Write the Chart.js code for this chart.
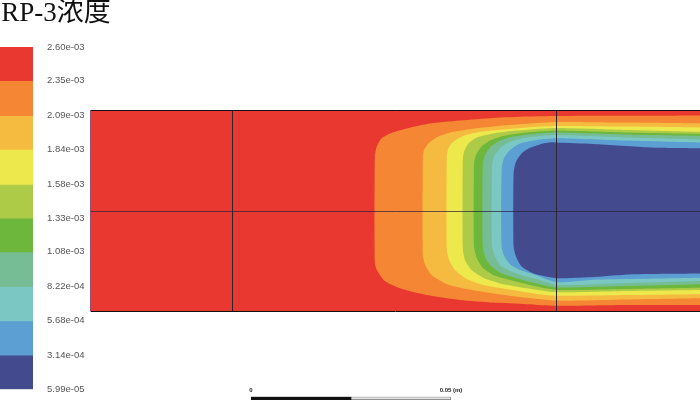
<!DOCTYPE html>
<html>
<head>
<meta charset="utf-8">
<title>RP-3浓度</title>
<script src="https://cdn.jsdelivr.net/npm/chart.js@4"></script>
<style>
  html, body { margin: 0; padding: 0; background: #fff; width: 700px; height: 400px; overflow: hidden; }
  canvas { position: absolute; }
</style>
</head>
<body>
<canvas id="field" width="700" height="400" style="left:0;top:0"></canvas>
<canvas id="colorbar" width="112" height="409" style="left:0;top:0"></canvas>
<canvas id="scalebar" width="250" height="14" style="left:230px;top:386px"></canvas>
<script>
'use strict'

const titleText = 'RP-3浓度'

// legend, top to bottom
const levels = [2.60e-3, 2.35e-3, 2.09e-3, 1.84e-3, 1.58e-3, 1.33e-3, 1.08e-3, 8.22e-4, 5.68e-4, 3.14e-4, 5.99e-5]
const levelLabels = ['2.60e-03', '2.35e-03', '2.09e-03', '1.84e-03', '1.58e-03', '1.33e-03', '1.08e-03', '8.22e-04', '5.68e-04', '3.14e-04', '5.99e-05']
const bandColors = ['#e8382f', '#f58634', '#f5bb40', '#ede84c', '#aecb47', '#6db73c', '#76bd96', '#7ac7c4', '#5b9fd3', '#434a8e']

// domain size and mesh lines, in mm
const domainX = 152.5
const domainY = 50.25
const gridX = [35.5, 116.5]
const gridY = [0, 25, 50.25]

// contours as [x, y] in mm, running from the outlet along the top wall, round the front, back along the bottom wall
const wholeDomain = [[152.5, 50.25], [0, 50.25], [0, 0], [152.5, 0]]
const redOrange = [[152.5, 48.9], [134.2, 48.8], [116.7, 48.75], [109.2, 48.6], [100.8, 48.25], [92.5, 47.6], [84.2, 46.75], [78.3, 45.4], [75, 44.4], [72.9, 43.2], [71.7, 41.1], [71.2, 38.6], [71.2, 12.3], [71.7, 10.25], [73.7, 7.5], [77.5, 5.7], [84.2, 4], [92.5, 2.75], [100.8, 2.1], [109.2, 1.7], [116.7, 1.3], [134.2, 1.5], [152.5, 1.5]]
const orangeAmber = [[152.5, 46.9], [134.2, 47.1], [116.7, 47.25], [105, 46.5], [96.7, 45.7], [90.8, 44.8], [87.1, 43.6], [84.6, 41.9], [83.5, 40.25], [83.2, 38.6], [83.2, 14], [83.8, 11.5], [85.4, 9], [89.2, 6.7], [94.2, 5.5], [100.8, 4.4], [109.2, 3.3], [116.7, 2.6], [134.2, 2.9], [152.5, 3.2]]
const amberYellow = [[152.5, 45.9], [134.2, 46.1], [116.7, 46.25], [109.2, 45.9], [103.3, 45.4], [97.5, 44.8], [93.3, 43.75], [90.8, 42.3], [89.6, 40.7], [89.2, 38.6], [89.2, 15.25], [89.8, 12.75], [91.25, 10.25], [94.2, 8], [98.3, 6.5], [104.2, 5.5], [110.8, 4.4], [116.7, 3.8], [134.2, 4], [152.5, 4.2]]
const yellowLime = [[152.5, 44.8], [134.2, 45.25], [116.7, 45.75], [106.7, 45.1], [100.8, 44.4], [96.7, 43.4], [94.6, 41.9], [93.5, 39.8], [93.2, 37.75], [93.2, 15.7], [93.75, 12.75], [95.4, 10.25], [98.3, 8.3], [102.5, 6.9], [109.2, 5.7], [116.7, 4.7], [134.2, 5], [152.5, 5.25]]
const limeGreen = [[152.5, 44.25], [134.2, 44.6], [116.7, 45.1], [109.2, 44.6], [103.3, 43.75], [100, 42.6], [97.9, 41.1], [96.5, 39], [96, 36.9], [96, 16.1], [96.7, 13.2], [98.3, 10.7], [101.25, 8.8], [105, 7.75], [110.8, 6.3], [116.7, 5.25], [134.2, 5.5], [152.5, 5.8]]
const greenSea = [[152.5, 43.75], [134.2, 44.1], [116.7, 44.6], [110.8, 44.25], [105.8, 43.6], [102.5, 42.6], [100.2, 41.1], [98.75, 39], [98.2, 36.9], [98.2, 16.1], [98.9, 13.2], [100.4, 11.1], [102.9, 9.4], [106.7, 8.2], [111.7, 6.9], [116.7, 5.9], [134.2, 6.25], [152.5, 6.7]]
const seaTeal = [[152.5, 42.9], [134.2, 43.4], [116.7, 44], [112.5, 43.75], [108.3, 43.2], [105, 42.3], [102.5, 40.7], [101, 38.6], [100.5, 36.1], [100.5, 16.1], [101.25, 13.6], [102.5, 11.5], [105, 10], [108.3, 8.8], [112.5, 7.75], [116.7, 6.5], [134.2, 7], [152.5, 7.5]]
const tealBlue = [[152.5, 42.1], [134.2, 42.6], [116.7, 43.2], [111.7, 42.75], [107.5, 41.9], [105, 40.25], [103.5, 38.2], [102.9, 35.25], [102.9, 16.1], [103.6, 13.6], [105, 11.7], [107.5, 10.25], [110.8, 9.2], [116.7, 7.2], [125.8, 7.8], [152.5, 8.3]]
const blueNavy = [[152.5, 40.7], [140, 40.9], [125.8, 41.75], [116.7, 42.1], [115.4, 42.2], [113.3, 41.9], [110, 40.8], [107.9, 39.4], [106.5, 37.3], [105.9, 34.4], [105.9, 16.1], [106.5, 13.6], [107.9, 11.1], [110.8, 9.4], [116.7, 8.2], [119.2, 8.2], [125.8, 8.5], [135.8, 9.2], [152.5, 9.4]]

// scale bar, in m
const scaleSpan = 0.05
const scaleHalf = 0.025
const scaleLabels = ['0', '0.05 (m)']

const contours = [wholeDomain, redOrange, orangeAmber, amberYellow, yellowLime, limeGreen, greenSea, seaTeal, tealBlue, blueNavy]

function renderField () {
  const datasets = contours.map((contour, index) => {
    return {
      data: contour.map(point => ({ x: point[0], y: point[1] })),
      backgroundColor: bandColors[index],
      borderWidth: 0,
      pointRadius: 0,
      fill: 'shape',
      tension: index === 0 ? 0 : 0.2,
      // innermost band has to be painted last
      order: contours.length - index
    }
  })
  new Chart(document.getElementById('field'), {
    type: 'line',
    data: { datasets },
    options: {
      responsive: false,
      animation: false,
      layout: { padding: { left: 90, top: 110, right: 0, bottom: 89 } },
      plugins: { legend: { display: false }, title: { display: false }, tooltip: { enabled: false } },
      scales: {
        x: {
          type: 'linear',
          min: 0,
          max: domainX,
          border: { display: false },
          ticks: { display: false },
          grid: { color: '#2b2530', drawTicks: false, z: 1 },
          afterBuildTicks: scale => { scale.ticks = gridX.map(value => ({ value })) }
        },
        y: {
          type: 'linear',
          min: 0,
          max: domainY,
          border: { display: true, color: 'rgba(110,90,160,0.6)', z: 1 },
          ticks: { display: false },
          grid: {
            color: ctx => ctx.tick && ctx.tick.value === gridY[1] ? 'rgba(40,30,60,0.7)' : '#111',
            drawTicks: false,
            z: 1
          },
          afterBuildTicks: scale => { scale.ticks = gridY.map(value => ({ value })) }
        }
      }
    }
  })
}

function renderColorbar () {
  const datasets = bandColors.map((color, index) => {
    return {
      data: [[levels[index + 1], levels[index]]],
      backgroundColor: color,
      borderWidth: 0,
      categoryPercentage: 1,
      barPercentage: 1,
      grouped: false
    }
  })
  new Chart(document.getElementById('colorbar'), {
    type: 'bar',
    data: { labels: ['c'], datasets },
    options: {
      responsive: false,
      animation: false,
      layout: { padding: { left: 0, top: 0, right: 0, bottom: 2 } },
      plugins: {
        legend: { display: false },
        tooltip: { enabled: false },
        title: {
          display: true,
          text: titleText,
          align: 'center',
          color: '#111',
          padding: { top: 0, bottom: 20 },
          font: { family: "'Liberation Serif', 'Noto Sans CJK SC', serif", size: 27, weight: 'normal', lineHeight: 1 }
        }
      },
      scales: {
        x: { display: false, stacked: false },
        y: {
          type: 'linear',
          position: 'right',
          min: levels[levels.length - 1],
          max: levels[0],
          border: { display: false },
          grid: { display: false, drawTicks: false },
          afterFit: scale => { scale.width = 79 },
          afterBuildTicks: scale => { scale.ticks = levels.map(value => ({ value })) },
          ticks: {
            autoSkip: false,
            padding: 14,
            color: '#555',
            font: { family: "'Liberation Sans', sans-serif", size: 9.5 },
            callback: (value, index) => levelLabels[index]
          }
        }
      }
    }
  })
}

function renderScalebar () {
  new Chart(document.getElementById('scalebar'), {
    type: 'bar',
    data: {
      labels: ['s'],
      datasets: [
        { data: [[0, scaleHalf]], backgroundColor: '#111', borderWidth: 0, categoryPercentage: 1, barPercentage: 1, grouped: false },
        { data: [[scaleHalf, scaleSpan]], backgroundColor: '#e2e0de', borderColor: '#777', borderWidth: 1, categoryPercentage: 1, barPercentage: 1, grouped: false }
      ]
    },
    options: {
      indexAxis: 'y',
      responsive: false,
      animation: false,
      layout: { padding: { left: 21, right: 29, top: 0, bottom: 0 } },
      plugins: { legend: { display: false }, title: { display: false }, tooltip: { enabled: false } },
      scales: {
        y: { display: false },
        x: {
          type: 'linear',
          position: 'top',
          min: 0,
          max: scaleSpan,
          border: { display: false },
          grid: { display: false, drawTicks: false },
          afterFit: scale => { scale.height = 10.7 },
          afterBuildTicks: scale => { scale.ticks = [0, scaleSpan].map(value => ({ value })) },
          ticks: {
            autoSkip: false,
            maxRotation: 0,
            padding: 3,
            color: '#222',
            font: { family: "'Liberation Sans', sans-serif", size: 6, weight: 'bold' },
            callback: (value, index) => scaleLabels[index]
          }
        }
      }
    }
  })
}

renderField()
renderColorbar()
renderScalebar()
</script>
</body>
</html>
